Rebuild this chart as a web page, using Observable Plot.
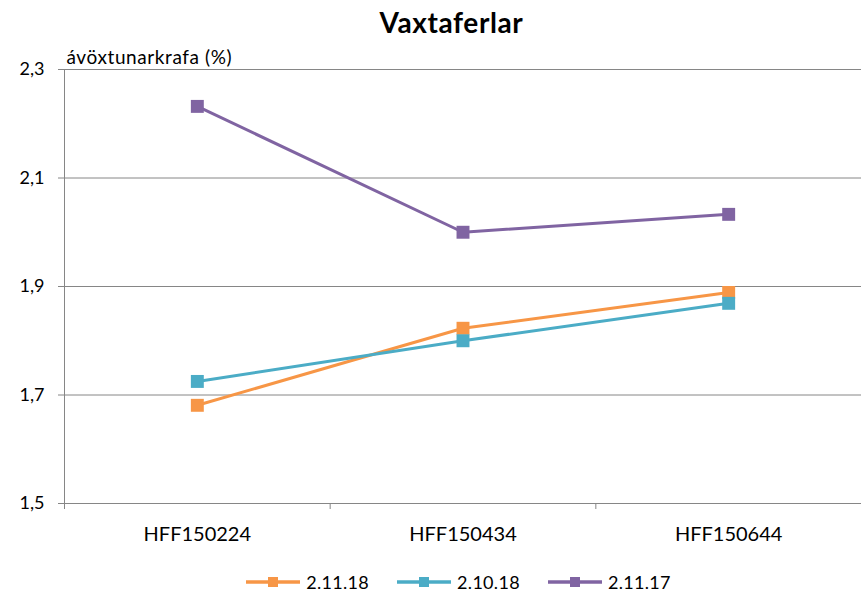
<!DOCTYPE html>
<html>
<head>
<meta charset="utf-8">
<script src="https://cdn.jsdelivr.net/npm/d3@7"></script>
<script src="https://cdn.jsdelivr.net/npm/@observablehq/plot@0.6"></script>
<style>
  body { margin: 0; background: #fff; font-family: Lato, "Open Sans", sans-serif; }
  #title { width: 861px; height: 48px; box-sizing: border-box; padding-left: 42px; padding-top: 5px;
           text-align: center; font-weight: bold; font-size: 28px; letter-spacing: 0.6px; color: #000; }
  #legend { width: 861px; height: 38px; display: flex; justify-content: center; align-items: center;
            padding-left: 56px; padding-top: 10px; box-sizing: border-box; font-size: 18px; letter-spacing: 0.3px; color: #000; }
  .item { display: flex; align-items: center; margin: 0 14px; }
  .item svg { margin-right: 6px; }
  .ylab { letter-spacing: 0.6px; }
</style>
</head>
<body>
<div id="title">Vaxtaferlar</div>
<div id="chart"></div>
<div id="legend"></div>
<script>
const categories = ["HFF150224", "HFF150434", "HFF150644"];
const series = ["2.11.18", "2.10.18", "2.11.17"];
const values_2_11_18 = [1.681, 1.823, 1.889];
const values_2_10_18 = [1.725, 1.800, 1.869];
const values_2_11_17 = [2.232, 2.000, 2.033];
const yTicks = [1.5, 1.7, 1.9, 2.1, 2.3];
const colors = ["#F79646", "#4BACC6", "#8064A2"];
const yLabel = "ávöxtunarkrafa (%)";

const seriesValues = [values_2_11_18, values_2_10_18, values_2_11_17];
const data = [];
series.forEach((s, si) => seriesValues[si].forEach((v, i) => data.push({series: s, i, value: v})));

const grid = "#868686";
const chart = Plot.plot({
  width: 861,
  height: 510,
  marginLeft: 64,
  marginRight: 0,
  marginTop: 21,
  marginBottom: 55,
  style: {fontFamily: "Lato, 'Open Sans', sans-serif", fontSize: "18px", background: "white", overflow: "visible"},
  x: {domain: [-0.5, categories.length - 0.5], axis: null},
  y: {domain: [yTicks[0], yTicks[yTicks.length - 1]], axis: null},
  color: {domain: series, range: colors},
  marks: [
    Plot.ruleY(yTicks, {stroke: grid, strokeWidth: 1}),
    Plot.ruleX([-0.5], {stroke: grid, strokeWidth: 1}),
    Plot.axisY({ticks: yTicks, tickFormat: d => d.toFixed(1).replace(".", ","), tickSize: 6, tickPadding: 14,
                stroke: grid, fill: "black", fontSize: 18, label: null}),
    Plot.axisX({ticks: d3.range(categories.length + 1).map(i => i - 0.5), tickFormat: () => "", tickSize: 6,
                stroke: grid, label: null}),
    Plot.axisX({ticks: d3.range(categories.length), tickFormat: i => categories[i], tickSize: 0, tickPadding: 23,
                fill: "black", fontSize: 20, label: null}),
    Plot.line(data, {x: "i", y: "value", z: "series", stroke: "series", strokeWidth: 3}),
    Plot.dot(data, {x: "i", y: "value", fill: "series", symbol: "square", r: 7.3}),
    Plot.text([yLabel], {frameAnchor: "top-left", dx: 2, dy: -19, textAnchor: "start", fill: "black", fontSize: 19,
                         className: "ylab"})
  ]
});
document.getElementById("chart").appendChild(chart);

const legend = document.getElementById("legend");
series.forEach((s, i) => {
  const item = document.createElement("div");
  item.className = "item";
  item.innerHTML = `<svg width="54" height="14"><line x1="0" x2="54" y1="7" y2="7" stroke="${colors[i]}" stroke-width="3.5"/>` +
    `<rect x="22" y="2" width="10" height="10" fill="${colors[i]}"/></svg><span>${s}</span>`;
  legend.appendChild(item);
});
</script>
</body>
</html>
